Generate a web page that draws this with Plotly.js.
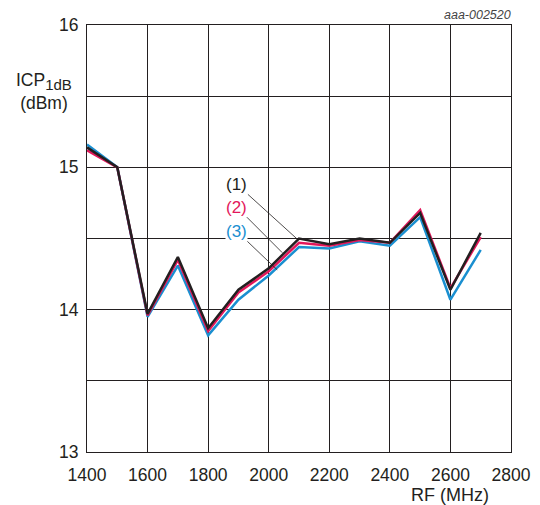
<!DOCTYPE html>
<html><head><meta charset="utf-8">
<script src="https://cdn.plot.ly/plotly-3.0.1.min.js"></script>
<style>html,body{margin:0;padding:0;background:#fff}</style>
</head><body><div id="chart" style="width:540px;height:505px"></div>
<script>
const freq = [1400,1500,1600,1700,1800,1900,2000,2100,2200,2300,2400,2500,2600,2700];
const icp1 = [15.14,15.00,13.97,14.37,13.87,14.14,14.29,14.50,14.46,14.50,14.47,14.68,14.14,14.54];
const icp2 = [15.12,15.00,13.96,14.35,13.85,14.12,14.27,14.47,14.45,14.49,14.47,14.70,14.15,14.51];
const icp3 = [15.16,15.00,13.95,14.31,13.82,14.07,14.24,14.44,14.43,14.48,14.45,14.65,14.07,14.42];
const seriesLabels = ['(1)','(2)','(3)'];
const colors = ['#231f20','#e3175b','#1a8fd0'];
const yTickVals = [13,13.5,14,14.5,15,15.5,16];
const yTickText = ['13','','14','','15','','16'];
const xTickVals = [1400,1600,1800,2000,2200,2400,2600,2800];

const fam = 'Liberation Sans, Arial, sans-serif';
const font = {family:fam, size:17.5, color:'#231f20'};
const traces = [
  {x:freq, y:icp3, mode:'lines', line:{color:colors[2], width:2.5}},
  {x:freq, y:icp2, mode:'lines', line:{color:colors[1], width:2.5}},
  {x:freq, y:icp1, mode:'lines', line:{color:colors[0], width:2.5}}
];
const tips = [[2092,14.50],[2045,14.40],[2028,14.28]];
const labelPos = [[1895,14.88],[1895,14.72],[1895,14.55]];
const annotations = seriesLabels.map((t,i)=>({
  x:tips[i][0], y:tips[i][1], xref:'x', yref:'y',
  ax:labelPos[i][0], ay:labelPos[i][1], axref:'x', ayref:'y',
  text:t, showarrow:true, arrowhead:0, arrowwidth:0.8, arrowcolor:'#231f20',
  font:{family:fam, size:17, color:colors[i]}, bgcolor:'#fff', borderpad:0
}));
annotations.push({xref:'paper', yref:'paper', x:-0.031, y:0.845, xanchor:'right', yanchor:'middle',
  text:'ICP<sub><span style="font-size:15px">1dB</span></sub><br>(dBm)', showarrow:false, align:'center', font:font});
annotations.push({xref:'paper', yref:'paper', x:1.005, y:1.0, xanchor:'right', yanchor:'bottom', yshift:1,
  text:'<i>aaa-002520</i>', showarrow:false, font:{family:fam, size:12.5, color:'#444'}});
annotations.push({xref:'x', yref:'paper', x:2600, y:0, xanchor:'center', yanchor:'top', yshift:-31,
  text:'RF (MHz)', showarrow:false, font:{family:fam, size:18, color:'#231f20'}});

const layout = {
  width:540, height:505,
  margin:{l:87, r:29, t:25, b:53},
  paper_bgcolor:'#fff', plot_bgcolor:'#fff',
  showlegend:false, font:font,
  xaxis:{range:[1400,2800], tickvals:xTickVals, showgrid:true, gridcolor:'#231f20', gridwidth:1,
    zeroline:false, showline:true, linecolor:'#231f20', linewidth:1, mirror:true, ticks:'', ticklen:0,
    ticklabelstandoff:7, tickfont:font, fixedrange:true},
  yaxis:{range:[13,16], tickvals:yTickVals, ticktext:yTickText, showgrid:true, gridcolor:'#231f20', gridwidth:1,
    zeroline:false, showline:true, linecolor:'#231f20', linewidth:1, mirror:true, ticks:'', ticklen:0,
    ticklabelstandoff:4, tickfont:font, fixedrange:true},
  annotations:annotations
};
Plotly.newPlot('chart', traces, layout, {staticPlot:true});
</script></body></html>
